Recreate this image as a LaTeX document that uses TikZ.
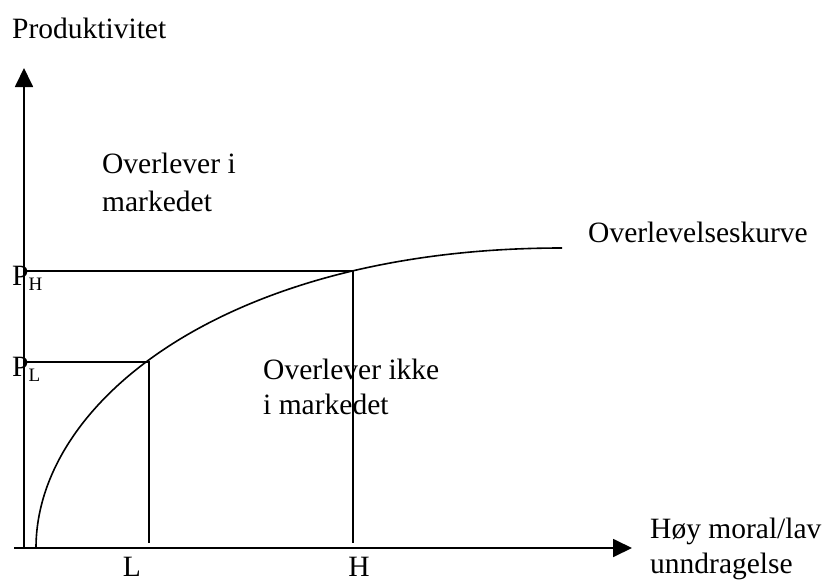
\documentclass[tikz,border=0pt]{standalone}
\usepackage{fontspec}
\setmainfont{Liberation Serif}
\usetikzlibrary{arrows.meta}
\tikzset{
  lbl/.style={inner sep=0pt, anchor=base west, font=\fontsize{29.5}{35}\selectfont},
  lblc/.style={inner sep=0pt, anchor=base, font=\fontsize{29.5}{35}\selectfont},
  axis/.style={line width=1.8pt, -{Triangle[length=19pt,width=18pt]}},
  guide/.style={line width=1.5pt},
  curve/.style={line width=1.6pt}
}
\newcommand{\subl}[1]{\raisebox{-5pt}{\fontsize{19}{19}\selectfont #1}}
\begin{document}
\begin{tikzpicture}[x=1pt,y=-1pt]
\useasboundingbox (0,0) rectangle (827,581);
% coordinates
\coordinate (orig) at (24,548);
\coordinate (ytip) at (24,68);
\coordinate (xstart) at (14,548);
\coordinate (xtip) at (632,548);
\coordinate (ph) at (24,271);
\coordinate (hc) at (353,271);
\coordinate (hb) at (353,543);
\coordinate (pl) at (24,362);
\coordinate (lc) at (149,362);
\coordinate (lb) at (149,543);
\coordinate (cs) at (36,548);
\coordinate (ce) at (562,248);
% axes
\draw[axis] (orig) -- (ytip);
\draw[axis] (xstart) -- (xtip);
% guides
\draw[guide] (ph) -- (hc) -- (hb);
\draw[guide] (pl) -- (lc) -- (lb);
% curve
\draw[curve] (cs) .. controls (36,400) and (230,248) .. (ce);
% labels
\node[lbl] (ylab) at (12,38) {Produktivitet};
\node[lbl] (r1a) at (102,173) {Overlever i};
\node[lbl] (r1b) at (102,211) {markedet};
\node[lbl] (r2a) at (263,379) {Overlever ikke};
\node[lbl] (r2b) at (263,414) {i markedet};
\node[lbl] (ckurve) at (588,242) {Overlevelseskurve};
\node[lbl] (phl) at (12,285) {P\subl{H}};
\node[lbl] (pll) at (12,376) {P\subl{L}};
\node[lblc] (llab) at (132,576) {L};
\node[lblc] (hlab) at (359,576) {H};
\node[lbl] (xa) at (650,538) {Høy moral/lav};
\node[lbl] (xb) at (650,573) {unndragelse};
\end{tikzpicture}
\end{document}
